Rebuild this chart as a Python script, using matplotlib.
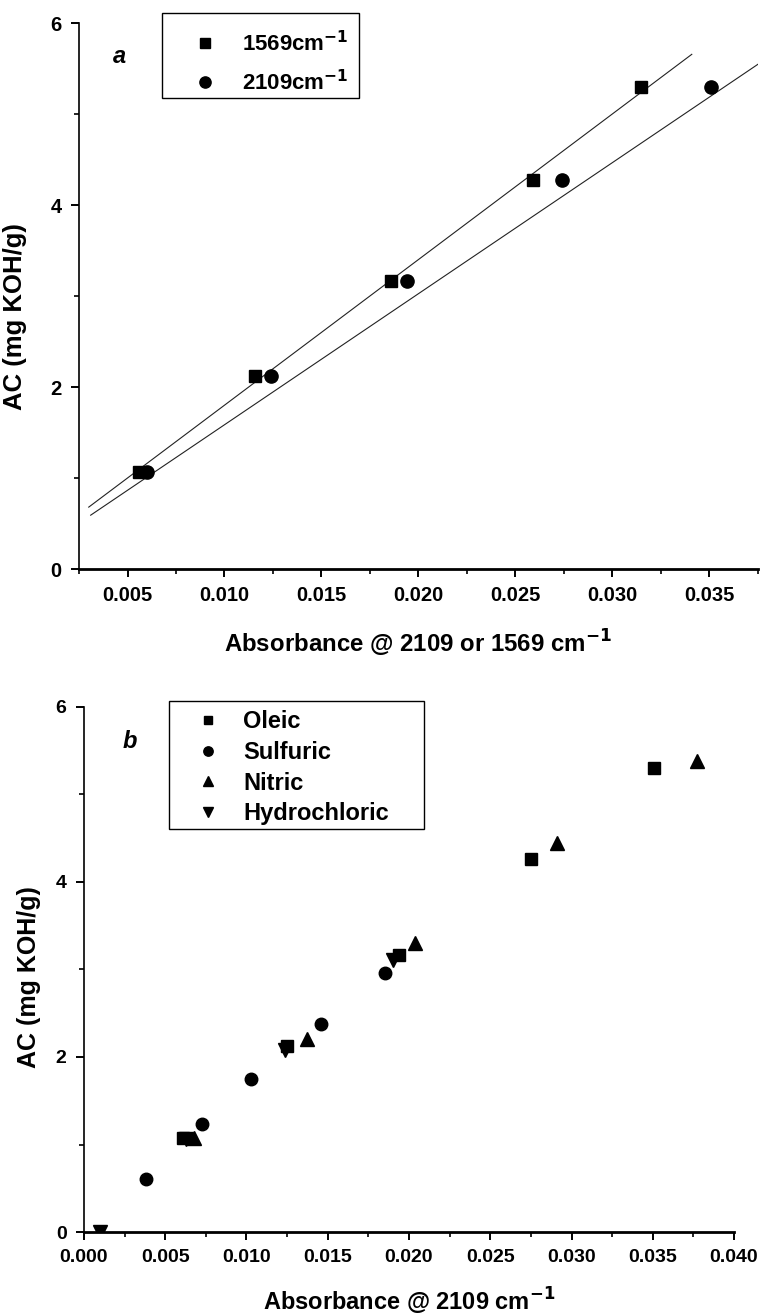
import numpy as np
import matplotlib
matplotlib.use("Agg")
import matplotlib.pyplot as plt
from matplotlib.patches import Rectangle
from matplotlib.ticker import MultipleLocator, FormatStrFormatter

plt.rcParams['font.family'] = ['Liberation Sans', 'DejaVu Sans']
plt.rcParams['font.weight'] = 'bold'
plt.rcParams['mathtext.default'] = 'bf'

# ── Panel a: absorbance at two bands vs acid content ─────────────────────────
abs_1569 = [0.0056, 0.0116, 0.0186, 0.0259, 0.0315]
abs_2109 = [0.0060, 0.0124, 0.0194, 0.0274, 0.0351]
ac_a = [1.07, 2.12, 3.17, 4.27, 5.30]
# linear fits as drawn in the figure: (slope, intercept, x from, x to)
fit_1569 = (160.0, 0.20, 0.0030, 0.0341)
fit_2109 = (144.0, 0.145, 0.0031, 0.0380)

# ── Panel b: different acids, absorbance @ 2109 ─────────────────────────────
oleic_x = [0.0061, 0.0125, 0.0194, 0.0275, 0.0351]
oleic_y = [1.07, 2.12, 3.17, 4.26, 5.30]
sulfuric_x = [0.0038, 0.00725, 0.0103, 0.0146, 0.0185]
sulfuric_y = [0.61, 1.23, 1.75, 2.38, 2.96]
nitric_x = [0.0068, 0.0137, 0.0204, 0.0291, 0.0377]
nitric_y = [1.08, 2.21, 3.30, 4.45, 5.38]
hcl_x = [0.0010, 0.0063, 0.0124, 0.0190]
hcl_y = [0.00, 1.06, 2.08, 3.11]

W, H = 760, 1315  # figure size in px


def px_box(x0, y0, x1, y1):
    # legend frame given in pixel corners (top-left origin)
    return Rectangle((x0 / W, 1 - y1 / H), (x1 - x0) / W, (y1 - y0) / H,
                     transform=fig.transFigure, fill=False,
                     edgecolor='black', linewidth=1.0)


def style_axes(ax, ticksize):
    ax.spines['top'].set_visible(False)
    ax.spines['right'].set_visible(False)
    ax.spines['left'].set_linewidth(1.2)
    ax.spines['bottom'].set_linewidth(2.0)
    ax.yaxis.set_major_locator(MultipleLocator(2))
    ax.yaxis.set_minor_locator(MultipleLocator(1))
    ax.xaxis.set_major_locator(MultipleLocator(0.005))
    ax.xaxis.set_minor_locator(MultipleLocator(0.0025))
    ax.xaxis.set_major_formatter(FormatStrFormatter('%.3f'))
    ax.tick_params(which='major', direction='out', length=6, width=1.4,
                   pad=6.5, labelsize=ticksize, colors='black')
    ax.tick_params(which='minor', direction='out', length=3.5, width=1.2)


fig = plt.figure(figsize=(W / 100, H / 100), dpi=100)

# Panel a
ax1 = fig.add_axes([0.104, 0.5673, 0.893, 0.4152])
ax1.set_xlim(0.0025, 0.0375)
ax1.set_ylim(0, 6)
for k, b, x0, x1 in [fit_1569, fit_2109]:
    xx = np.array([x0, x1])
    ax1.plot(xx, k * xx + b, color='#222222', lw=0.8, zorder=2)
h1, = ax1.plot(abs_1569, ac_a, 's', color='black', ms=8.5, zorder=3,
               label='1569cm$^{-1}$')
h2, = ax1.plot(abs_2109, ac_a, 'o', color='black', ms=9.5, zorder=3,
               label='2109cm$^{-1}$')
style_axes(ax1, 14.5)
ax1.set_ylabel('AC (mg KOH/g)', fontsize=18.5, fontweight='bold')
ax1.set_xlabel('Absorbance @ 2109 or 1569 cm$^{-1}$', fontsize=17.3,
               fontweight='bold')
ax1.xaxis.set_label_coords(0.5, -0.108)
ax1.yaxis.set_label_coords(-0.077, 0.463)
ax1.text(0.059, 0.938, 'a', transform=ax1.transAxes, fontsize=17,
         fontweight='bold', style='italic', ha='center', va='center')
ax1.legend(handles=[h1, h2], loc='upper left',
           bbox_to_anchor=(191.5 / W, 1 - 31 / H),
           bbox_transform=fig.transFigure, borderaxespad=0, borderpad=0,
           fontsize=16, frameon=False, handlelength=1.2,
           handletextpad=1.06, labelspacing=0.6, markerscale=0.85)
fig.add_artist(px_box(162, 13, 359, 98))

# Panel b
ax2 = fig.add_axes([0.1105, 0.0631, 0.8553, 0.3993])
ax2.set_xlim(0, 0.040)
ax2.set_ylim(0, 6)
g1, = ax2.plot(oleic_x, oleic_y, 's', color='black', ms=8, zorder=3,
               label='Oleic')
g2, = ax2.plot(sulfuric_x, sulfuric_y, 'o', color='black', ms=9, zorder=3,
               label='Sulfuric')
g3, = ax2.plot(nitric_x, nitric_y, '^', color='black', ms=9.5, zorder=3,
               label='Nitric')
g4, = ax2.plot(hcl_x, hcl_y, 'v', color='black', ms=9.5, zorder=3,
               label='Hydrochloric')
style_axes(ax2, 14)
ax2.set_ylabel('AC (mg KOH/g)', fontsize=18, fontweight='bold')
ax2.set_xlabel('Absorbance @ 2109 cm$^{-1}$', fontsize=17,
               fontweight='bold')
ax2.xaxis.set_label_coords(0.5, -0.103)
ax2.yaxis.set_label_coords(-0.066, 0.486)
ax2.text(0.071, 0.935, 'b', transform=ax2.transAxes, fontsize=17,
         fontweight='bold', style='italic', ha='center', va='center')
ax2.legend(handles=[g1, g2, g3, g4], loc='upper left',
           bbox_to_anchor=(193.8 / W, 1 - 710 / H),
           bbox_transform=fig.transFigure, borderaxespad=0, borderpad=0,
           fontsize=17, frameon=False, handlelength=1.2,
           handletextpad=0.89, labelspacing=0.33, markerscale=0.75)
fig.add_artist(px_box(169, 701, 424, 829))

fig.savefig('out.png', dpi=100)
